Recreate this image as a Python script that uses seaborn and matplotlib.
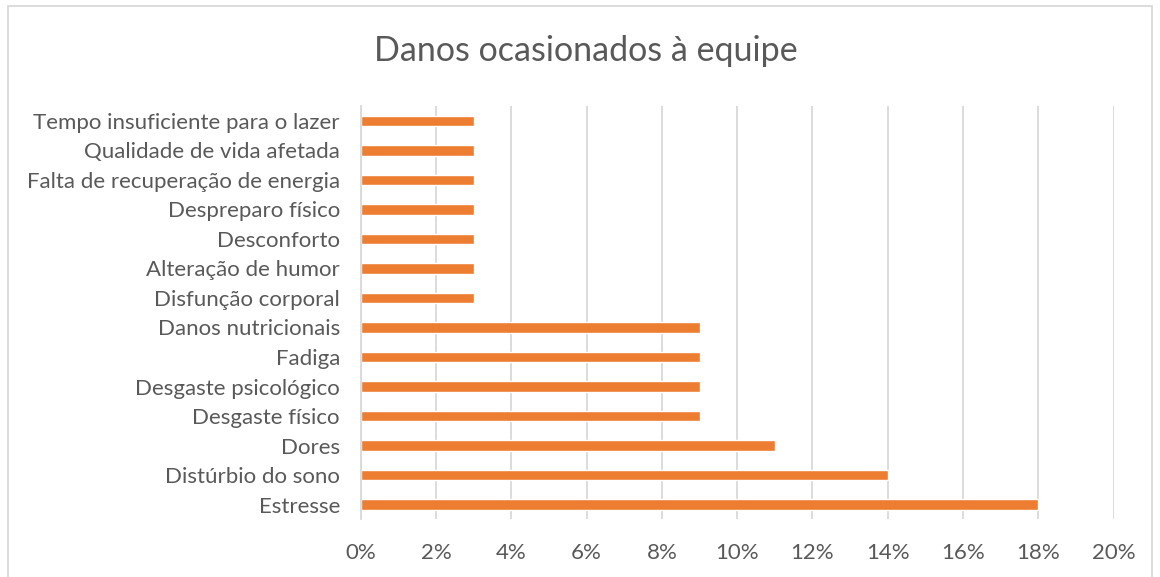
import matplotlib
matplotlib.use('Agg')
from matplotlib import pyplot as plt
from matplotlib.ticker import FuncFormatter
import pandas as pd
import seaborn as sns

# categories top to bottom
categorias = ['Tempo insuficiente para o lazer', 'Qualidade de vida afetada',
              'Falta de recuperação de energia', 'Despreparo físico',
              'Desconforto', 'Alteração de humor', 'Disfunção corporal',
              'Danos nutricionais', 'Fadiga', 'Desgaste psicológico',
              'Desgaste físico', 'Dores', 'Distúrbio do sono', 'Estresse']
percentuais = [3, 3, 3, 3, 3, 3, 3, 9, 9, 9, 9, 11, 14, 18]
ticks = [0, 2, 4, 6, 8, 10, 12, 14, 16, 18, 20]

df = pd.DataFrame({'categoria': categorias, 'pct': percentuais})

sns.set_style('white')
plt.rcParams['font.family'] = ['Lato', 'DejaVu Sans']
texto = '#595959'

f = plt.figure(figsize=(11.6, 5.77), dpi=100)
ax = f.add_axes([0.311, 0.100, 0.649, 0.716])
sns.barplot(data=df, x='pct', y='categoria', orient='h', color='#ED7D31',
            width=0.36, saturation=1, ax=ax)

ax.set_xlim(0, 20)
ax.set_xticks(ticks)
ax.xaxis.set_major_formatter(FuncFormatter(lambda v, p: f'{v:.0f}%'))
ax.grid(axis='x', color='#D9D9D9', linewidth=1.3)
ax.set_axisbelow(True)
for s in ['top', 'right', 'bottom']:
    ax.spines[s].set_visible(False)
ax.spines['left'].set_color('#D9D9D9')
ax.spines['left'].set_linewidth(1.3)
ax.tick_params(axis='both', length=0, labelsize=16, colors=texto)
ax.tick_params(axis='x', pad=17)
ax.tick_params(axis='y', pad=15)
ax.set_xlabel('')
ax.set_ylabel('')

f.text(0.505, 0.912, 'Danos ocasionados à equipe', ha='center', va='center',
       fontsize=24.5, color=texto)

# chart border
f.patches.append(plt.Rectangle((0.007, -0.01), 0.986, 1.0, transform=f.transFigure,
                               fill=False, edgecolor='#D9D9D9', linewidth=1.3))

f.savefig('out.png', dpi=100)
